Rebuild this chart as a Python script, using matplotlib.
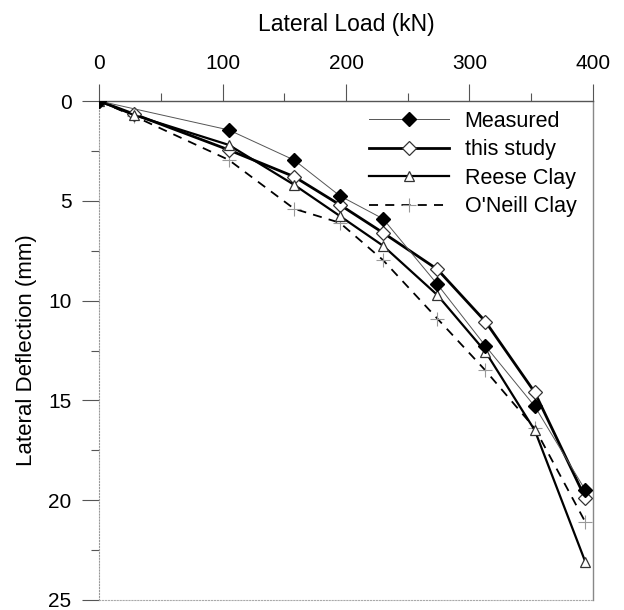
import matplotlib.pyplot as plt
import numpy as np

# load (kN) and deflection (mm)
load_meas = [0, 105, 158, 195, 230, 274, 313, 353, 394]
measured = [0, 1.45, 2.96, 4.75, 5.9, 9.18, 12.27, 15.3, 19.5]

load = [0, 28, 105, 158, 195, 230, 274, 313, 353, 394]
this_study = [0, 0.65, 2.45, 3.79, 5.2, 6.6, 8.43, 11.05, 14.6, 19.9]
reese = [0, 0.7, 2.2, 4.2, 5.76, 7.25, 9.72, 12.56, 16.5, 23.1]
oneill = [0, 0.75, 2.95, 5.4, 6.1, 7.97, 10.9, 13.5, 16.4, 21.1]

x_ticks = [0, 100, 200, 300, 400]
y_ticks = [0, 5, 10, 15, 20, 25]

plt.rcParams['font.family'] = ['Liberation Sans', 'DejaVu Sans']

fig = plt.figure(figsize=(6.24, 6.10), dpi=100)
ax = fig.add_axes([0.159, 0.0164, 0.791, 0.818])

ax.plot(load_meas, measured, color='#555555', lw=0.7, marker='D', ms=7.5,
        mfc='black', mec='black', label='Measured', zorder=4)
ax.plot(load, this_study, color='black', lw=2.0, marker='D', ms=7.5,
        mfc='white', mec='#333333', mew=0.9, label='this study', zorder=3)
ax.plot(load, reese, color='black', lw=1.6, marker='^', ms=7.5,
        mfc='white', mec='#333333', mew=0.9, label='Reese Clay', zorder=3)
ax.plot(load, oneill, color='black', lw=1.3, ls=(0, (5, 4)), marker='+', ms=10,
        mec='#999999', mew=0.8, label="O'Neill Clay", zorder=2)

ax.set_xlim(0, 400)
ax.set_ylim(25, 0)
ax.xaxis.tick_top()
ax.xaxis.set_label_position('top')
ax.set_xticks(x_ticks)
ax.set_xticks(np.arange(50, 400, 100), minor=True)
ax.set_yticks(y_ticks)
ax.set_yticks(np.arange(2.5, 25, 5), minor=True)
ax.tick_params(axis='both', which='major', labelsize=15, length=12,
               color='#555555', width=0.8, pad=8)
ax.tick_params(axis='both', which='minor', length=6, color='#555555', width=0.8)

ax.set_xlabel('Lateral Load (kN)', fontsize=16.5, labelpad=17)
ax.set_ylabel('Lateral Deflection (mm)', fontsize=16, labelpad=8)

ax.spines['top'].set_color('#555555')
ax.spines['top'].set_linewidth(1.0)
ax.spines['right'].set_color('#888888')
ax.spines['right'].set_linewidth(1.0)
ax.spines['left'].set_color('#999999')
ax.spines['left'].set_linestyle(':')
ax.spines['bottom'].set_color('#aaaaaa')
ax.spines['bottom'].set_linestyle(':')

leg = ax.legend(loc='upper left', bbox_to_anchor=(0.529, 0.998), frameon=False,
                fontsize=15.5, handlelength=3.7, handletextpad=0.74,
                labelspacing=0.35, borderaxespad=0.0)

fig.savefig('out.png', dpi=100)
